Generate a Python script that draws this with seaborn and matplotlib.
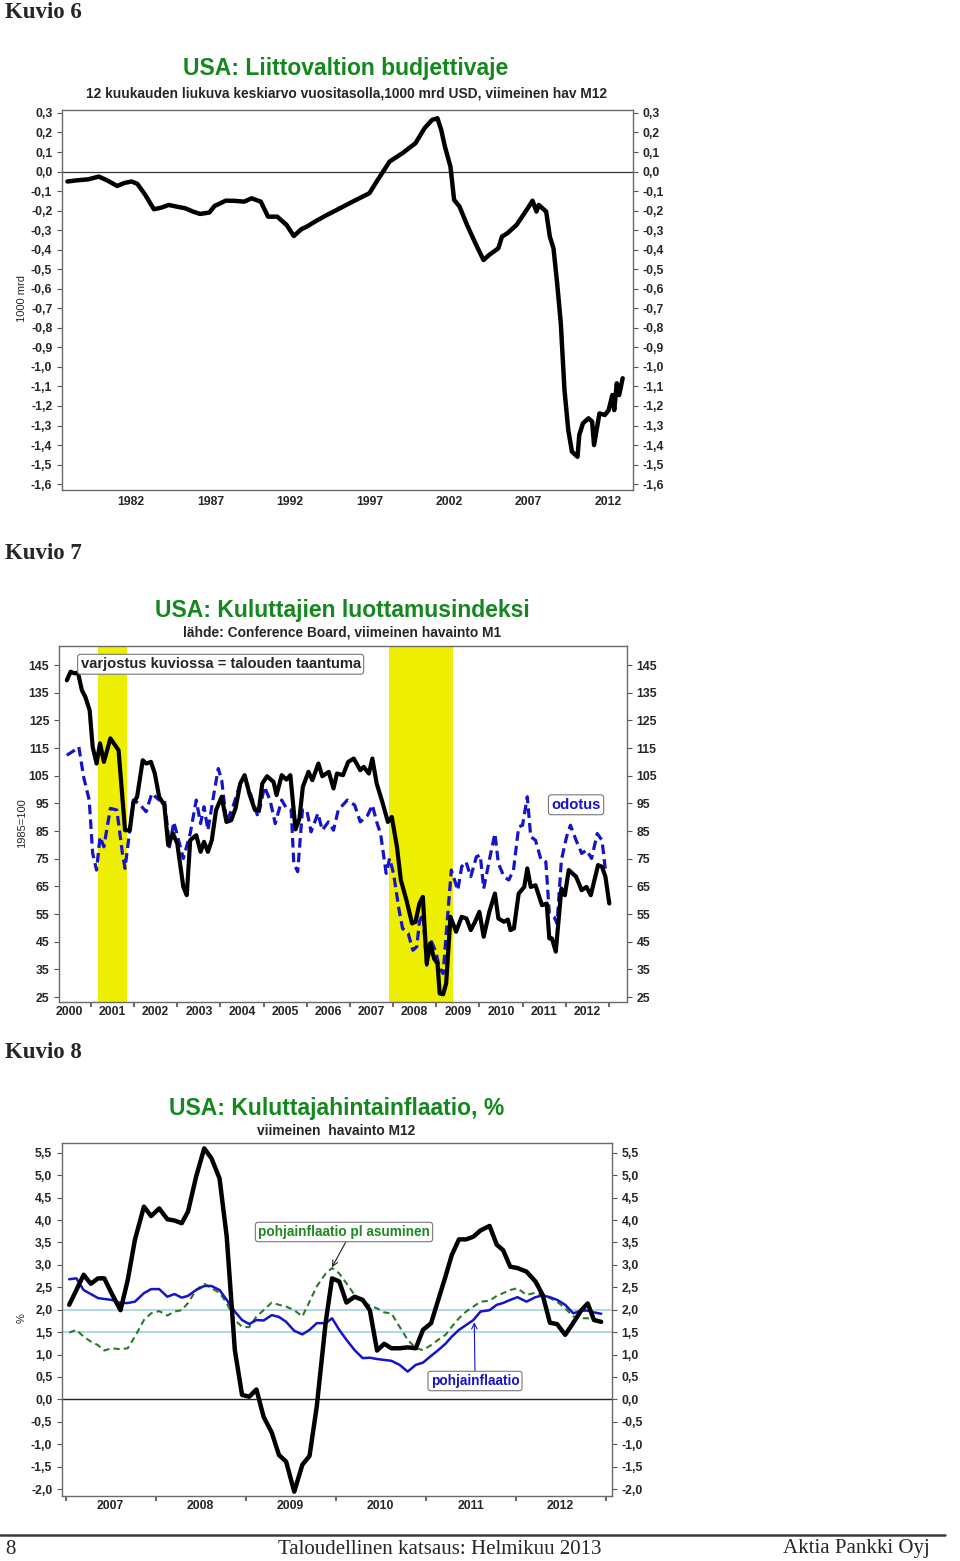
import numpy as np
import pandas as pd
import matplotlib
matplotlib.use("Agg")
import matplotlib.pyplot as plt
from matplotlib.lines import Line2D
import seaborn as sns

W, H = 960, 1561

# ---------------- data: Kuvio 6 (federal budget balance, 1000 bn USD) ----------------
bud_year = [1978.00, 1978.6, 1979.3, 1979.97, 1980.5, 1981.13, 1981.6, 1982.05, 1982.40, 1982.9,
            1983.44, 1983.9, 1984.37, 1984.9, 1985.41, 1985.9, 1986.34, 1986.92, 1987.26, 1987.96,
            1988.5, 1989.12, 1989.58, 1990.16, 1990.62, 1991.20, 1991.78, 1992.24, 1992.71, 1993.05,
            1993.6, 1994.21, 1995.14, 1996.06, 1996.99, 1997.45, 1997.92, 1998.26, 1999.07, 1999.89,
            2000.46, 2000.93, 2001.27, 2001.51, 2001.74, 2002.09, 2002.32, 2002.66, 2003.13, 2003.71,
            2004.17, 2004.52, 2005.10, 2005.33, 2005.67, 2006.25, 2006.95, 2007.25, 2007.5, 2007.64,
            2008.11, 2008.34, 2008.57, 2008.80, 2009.03, 2009.26, 2009.50, 2009.73, 2010.08, 2010.19,
            2010.42, 2010.77, 2011.0, 2011.12, 2011.46, 2011.8, 2012.04, 2012.27, 2012.39, 2012.55,
            2012.7, 2012.92]
bud_value = [-0.051, -0.045, -0.040, -0.026, -0.045, -0.074, -0.058, -0.051, -0.063, -0.120,
             -0.193, -0.185, -0.171, -0.180, -0.188, -0.205, -0.217, -0.210, -0.176, -0.149,
             -0.150, -0.154, -0.137, -0.154, -0.231, -0.231, -0.273, -0.330, -0.295, -0.282,
             -0.255, -0.227, -0.188, -0.149, -0.111, -0.051, 0.008, 0.051, 0.094, 0.145,
             0.222, 0.264, 0.273, 0.213, 0.128, 0.025, -0.145, -0.179, -0.273, -0.376,
             -0.453, -0.427, -0.393, -0.333, -0.316, -0.273, -0.188, -0.149, -0.205, -0.171,
             -0.205, -0.333, -0.393, -0.572, -0.777, -1.118, -1.323, -1.434, -1.460, -1.349,
             -1.289, -1.263, -1.280, -1.400, -1.238, -1.246, -1.221, -1.144, -1.221, -1.084,
             -1.144, -1.058]
bud_yticks = [0.3, 0.2, 0.1, 0.0, -0.1, -0.2, -0.3, -0.4, -0.5, -0.6, -0.7, -0.8, -0.9,
              -1.0, -1.1, -1.2, -1.3, -1.4, -1.5, -1.6]
bud_xticks = [1982, 1987, 1992, 1997, 2002, 2007, 2012]

# ---------------- data: Kuvio 7 (Conference Board consumer confidence) ----------------
conf_year = [2000.44, 2000.53, 2000.62, 2000.70, 2000.79, 2000.87, 2000.97, 2001.04, 2001.13, 2001.21,
             2001.30, 2001.45, 2001.64, 2001.79, 2001.90, 2001.98, 2002.07, 2002.20, 2002.28, 2002.39,
             2002.48, 2002.58, 2002.70, 2002.79, 2002.90, 2003.00, 2003.14, 2003.22, 2003.30, 2003.44,
             2003.54, 2003.62, 2003.71, 2003.80, 2003.90, 2004.03, 2004.14, 2004.25, 2004.35, 2004.46,
             2004.56, 2004.68, 2004.80, 2004.89, 2004.97, 2005.08, 2005.23, 2005.30, 2005.42, 2005.53,
             2005.62, 2005.74, 2005.83, 2005.91, 2006.04, 2006.13, 2006.27, 2006.36, 2006.51, 2006.62,
             2006.70, 2006.84, 2006.96, 2007.09, 2007.24, 2007.32, 2007.44, 2007.52, 2007.62, 2007.75,
             2007.88, 2007.97, 2008.09, 2008.18, 2008.31, 2008.44, 2008.52, 2008.61, 2008.69, 2008.78,
             2008.86, 2008.95, 2009.03, 2009.08, 2009.16, 2009.23, 2009.33, 2009.46, 2009.59, 2009.70,
             2009.80, 2009.90, 2010.00, 2010.10, 2010.23, 2010.36, 2010.44, 2010.57, 2010.66, 2010.72,
             2010.80, 2010.91, 2011.04, 2011.11, 2011.19, 2011.30, 2011.45, 2011.56, 2011.62, 2011.68,
             2011.77, 2011.90, 2011.98, 2012.07, 2012.24, 2012.37, 2012.48, 2012.58, 2012.75, 2012.84,
             2012.92, 2013.01]
conf_present = [139.5, 142.6, 142.0, 142.3, 135.9, 133.5, 128.7, 115.4, 109.4, 116.7,
                110.0, 118.5, 114.2, 85.3, 85.3, 95.0, 97.4, 110.6, 109.4, 110.0,
                105.8, 97.4, 94.4, 79.9, 84.1, 80.5, 64.8, 61.8, 81.7, 83.5,
                77.5, 81.1, 77.5, 81.7, 92.6, 97.4, 88.3, 88.9, 93.2, 102.2,
                105.2, 98.0, 92.6, 92.6, 102.2, 104.8, 102.8, 98.0, 105.2, 103.6,
                105.2, 85.6, 89.5, 101.0, 106.4, 103.4, 109.4, 104.8, 106.4, 100.4,
                105.8, 105.2, 110.0, 111.2, 107.0, 108.2, 105.8, 111.2, 102.2, 95.6,
                88.3, 90.1, 79.3, 67.3, 60.0, 51.6, 52.2, 58.8, 61.2, 37.1,
                44.4, 38.9, 37.1, 26.3, 26.0, 29.9, 54.0, 48.6, 54.0, 53.4,
                49.2, 52.2, 55.8, 46.8, 55.8, 62.4, 53.4, 52.2, 53.0, 49.2,
                49.8, 62.4, 64.8, 71.5, 64.8, 65.4, 58.2, 58.8, 46.2, 46.2,
                41.4, 64.2, 61.8, 70.9, 68.5, 63.6, 64.8, 61.8, 72.7, 72.1,
                68.5, 58.8]
exp_year = [2000.44, 2000.62, 2000.72, 2000.83, 2000.96, 2001.04, 2001.13, 2001.21, 2001.30, 2001.45,
            2001.60, 2001.73, 2001.79, 2001.90, 2001.98, 2002.11, 2002.28, 2002.41, 2002.58, 2002.70,
            2002.82, 2002.92, 2003.03, 2003.14, 2003.30, 2003.44, 2003.54, 2003.62, 2003.71, 2003.85,
            2003.95, 2004.03, 2004.14, 2004.29, 2004.46, 2004.59, 2004.72, 2004.87, 2005.02, 2005.15,
            2005.27, 2005.42, 2005.53, 2005.64, 2005.70, 2005.79, 2005.90, 2006.00, 2006.10, 2006.26,
            2006.36, 2006.50, 2006.62, 2006.73, 2006.94, 2007.11, 2007.24, 2007.41, 2007.52, 2007.62,
            2007.71, 2007.84, 2007.92, 2008.01, 2008.14, 2008.22, 2008.35, 2008.46, 2008.55, 2008.61,
            2008.69, 2008.78, 2008.89, 2008.99, 2009.08, 2009.16, 2009.25, 2009.35, 2009.50, 2009.59,
            2009.69, 2009.80, 2009.93, 2010.02, 2010.10, 2010.23, 2010.36, 2010.44, 2010.57, 2010.68,
            2010.79, 2010.91, 2011.00, 2011.11, 2011.19, 2011.30, 2011.43, 2011.54, 2011.62, 2011.73,
            2011.80, 2011.90, 2012.02, 2012.11, 2012.24, 2012.37, 2012.48, 2012.60, 2012.73, 2012.84,
            2012.92]
conf_expect = [112.4, 114.2, 115.4, 104.6, 96.2, 76.9, 70.9, 82.9, 79.3, 93.2,
               92.6, 76.9, 71.5, 85.3, 96.2, 95.0, 92.0, 98.6, 96.2, 96.8,
               79.3, 88.3, 81.7, 75.1, 84.1, 96.2, 87.7, 93.8, 85.3, 98.6,
               107.6, 103.4, 88.3, 93.8, 102.2, 103.4, 97.4, 90.1, 101.0, 96.2,
               87.7, 96.2, 93.2, 92.6, 73.3, 70.3, 92.6, 92.6, 84.7, 91.4,
               85.3, 88.3, 85.3, 92.6, 96.2, 94.4, 88.3, 90.7, 94.4, 88.3,
               84.1, 69.7, 75.1, 69.7, 56.4, 49.8, 48.0, 41.9, 43.2, 52.2,
               55.2, 36.5, 45.0, 41.4, 35.3, 33.5, 51.6, 70.9, 63.6, 72.1,
               73.9, 68.5, 75.7, 76.3, 64.2, 74.5, 84.1, 73.3, 68.5, 67.3,
               70.9, 86.5, 87.1, 97.4, 82.9, 81.7, 74.5, 73.9, 55.2, 54.0,
               51.6, 74.5, 82.9, 87.1, 81.7, 76.9, 78.1, 75.1, 84.1, 81.7,
               70.9]
recession_start = [2001.17, 2007.91]
recession_end = [2001.84, 2009.40]
conf_yticks = [145, 135, 125, 115, 105, 95, 85, 75, 65, 55, 45, 35, 25]
conf_years = list(range(2000, 2013))

# ---------------- data: Kuvio 8 (CPI inflation, %) ----------------
cpi_year = [2007.04, 2007.12, 2007.20, 2007.28, 2007.36, 2007.43, 2007.51, 2007.61, 2007.69, 2007.77,
            2007.87, 2007.95, 2008.04, 2008.13, 2008.21, 2008.29, 2008.36, 2008.45, 2008.54, 2008.62,
            2008.71, 2008.79, 2008.88, 2008.96, 2009.04, 2009.12, 2009.20, 2009.29, 2009.37, 2009.45,
            2009.54, 2009.63, 2009.71, 2009.79, 2009.89, 2009.96, 2010.04, 2010.12, 2010.21, 2010.30,
            2010.38, 2010.46, 2010.54, 2010.62, 2010.71, 2010.80, 2010.89, 2010.97, 2011.06, 2011.14,
            2011.22, 2011.29, 2011.37, 2011.45, 2011.53, 2011.61, 2011.71, 2011.79, 2011.86, 2011.94,
            2012.02, 2012.12, 2012.22, 2012.30, 2012.38, 2012.46, 2012.55, 2012.64, 2012.73, 2012.80,
            2012.87, 2012.95]
cpi_headline = [2.11, 2.44, 2.78, 2.58, 2.70, 2.70, 2.37, 1.99, 2.66, 3.56,
                4.30, 4.09, 4.26, 4.02, 3.99, 3.93, 4.19, 4.97, 5.60, 5.38,
                4.93, 3.63, 1.10, 0.10, 0.06, 0.22, -0.39, -0.74, -1.24, -1.39,
                -2.06, -1.46, -1.26, -0.16, 1.73, 2.70, 2.63, 2.16, 2.29, 2.22,
                1.99, 1.09, 1.24, 1.14, 1.14, 1.16, 1.14, 1.55, 1.70, 2.22,
                2.74, 3.22, 3.57, 3.57, 3.63, 3.77, 3.87, 3.45, 3.33, 2.96,
                2.93, 2.85, 2.63, 2.33, 1.71, 1.68, 1.44, 1.71, 1.99, 2.14,
                1.77, 1.73]
cpi_core = [2.68, 2.70, 2.44, 2.35, 2.26, 2.24, 2.22, 2.15, 2.15, 2.18,
            2.37, 2.46, 2.46, 2.29, 2.35, 2.27, 2.31, 2.44, 2.53, 2.53,
            2.44, 2.22, 1.96, 1.77, 1.68, 1.77, 1.76, 1.88, 1.84, 1.73,
            1.53, 1.45, 1.55, 1.70, 1.70, 1.81, 1.55, 1.33, 1.10, 0.92,
            0.93, 0.90, 0.88, 0.86, 0.77, 0.62, 0.77, 0.82, 0.97, 1.10,
            1.24, 1.40, 1.55, 1.66, 1.77, 1.96, 1.99, 2.11, 2.15, 2.22,
            2.28, 2.18, 2.28, 2.32, 2.28, 2.22, 2.11, 1.92, 1.98, 1.98,
            1.94, 1.91]
cpi_core_ex_housing = [1.49, 1.55, 1.40, 1.29, 1.21, 1.09, 1.14, 1.12, 1.14, 1.40,
                       1.77, 1.92, 1.97, 1.87, 1.96, 1.99, 2.15, 2.44, 2.58, 2.48,
                       2.38, 2.15, 1.77, 1.62, 1.61, 1.85, 1.99, 2.16, 2.11, 2.07,
                       1.99, 1.85, 2.18, 2.52, 2.81, 2.93, 2.81, 2.59, 2.33, 2.20,
                       2.09, 2.03, 1.94, 1.92, 1.62, 1.33, 1.14, 1.10, 1.21, 1.33,
                       1.44, 1.62, 1.81, 1.96, 2.07, 2.18, 2.20, 2.31, 2.37, 2.44,
                       2.48, 2.33, 2.38, 2.33, 2.26, 2.18, 2.03, 1.85, 1.81, 1.81,
                       1.77, 1.73]
cpi_yticks = [5.5, 5.0, 4.5, 4.0, 3.5, 3.0, 2.5, 2.0, 1.5, 1.0, 0.5, 0.0,
              -0.5, -1.0, -1.5, -2.0]
cpi_years = list(range(2007, 2013))
cpi_ref_lines = [2.0, 1.5]

# ---------------- styling ----------------
sns.set_theme(style="ticks")
plt.rcParams["font.family"] = ["Liberation Sans", "DejaVu Sans"]
SERIF = ["Liberation Serif", "DejaVu Serif"]
GREEN = "#14871e"
BLUE = "#1414c8"
TICK_FS = 8.8

fig = plt.figure(figsize=(W / 100, H / 100), dpi=100)


def px_rect(l, t, r, b):
    return [l / W, 1 - b / H, (r - l) / W, (b - t) / H]


def ftext(x, y, s, **kw):
    fig.text(x / W, 1 - y / H, s, **kw)


def comma(v, nd=1):
    return f"{v:.{nd}f}".replace(".", ",")


def style_axes(ax):
    for sp in ax.spines.values():
        sp.set_visible(True)
        sp.set_color("#6a6a6a")
        sp.set_linewidth(1.0)
    ax.tick_params(axis="y", which="both", left=True, right=True, labelleft=True,
                   labelright=True, length=3.5, width=0.8, color="#555555",
                   labelsize=TICK_FS, pad=3.5)
    ax.set_xlabel("")
    ax.set_ylabel("")
    for lab in ax.get_yticklabels() + ax.get_xticklabels(which="both"):
        lab.set_fontweight("bold")
    ax.grid(False)


def heading(y, s):
    ftext(5, y, s, fontsize=16.5, family=SERIF, fontweight="bold", va="center", ha="left")


# ---------- Kuvio 6 ----------
heading(12, "Kuvio 6")
ftext(346, 69, "USA: Liittovaltion budjettivaje", fontsize=16.5, fontweight="bold",
      color=GREEN, ha="center", va="center")
ftext(346, 93, "12 kuukauden liukuva keskiarvo vuositasolla,1000 mrd USD, viimeinen hav M12",
      fontsize=9.9, fontweight="bold", ha="center", va="center")
ftext(22, 298, "1000 mrd", fontsize=8, rotation=90, ha="center", va="center")

ax1 = fig.add_axes(px_rect(62, 110, 633, 490))
df1 = pd.DataFrame({"year": bud_year, "value": bud_value})
ax1.axhline(0, color="#333333", lw=0.9, zorder=1)
sns.lineplot(data=df1, x="year", y="value", ax=ax1, color="black", lw=3.2,
             estimator=None, sort=False, zorder=3)
ax1.set_xlim(1977.66, 2013.57)
ax1.set_ylim(-1.630, 0.315)
ax1.set_yticks(bud_yticks)
ax1.set_yticklabels([comma(v) for v in bud_yticks])
ax1.set_xticks(bud_xticks)
ax1.set_xticklabels([str(y) for y in bud_xticks])
ax1.tick_params(axis="x", length=0, labelsize=TICK_FS, pad=4)
style_axes(ax1)

# ---------- Kuvio 7 ----------
heading(554, "Kuvio 7")
ftext(342, 610, "USA: Kuluttajien luottamusindeksi", fontsize=16.5, fontweight="bold",
      color=GREEN, ha="center", va="center")
ftext(342, 633, "lähde: Conference Board, viimeinen havainto M1",
      fontsize=9.9, fontweight="bold", ha="center", va="center")
ftext(22, 823, "1985=100", fontsize=8, rotation=90, ha="center", va="center")

ax2 = fig.add_axes(px_rect(59, 646, 627, 1002))
for s, e in zip(recession_start, recession_end):
    ax2.axvspan(s, e, color="#eeee00", lw=0, zorder=0)
df2a = pd.DataFrame({"year": conf_year, "value": conf_present})
df2b = pd.DataFrame({"year": exp_year, "value": conf_expect})
sns.lineplot(data=df2b, x="year", y="value", ax=ax2, color=BLUE, lw=2.3,
             linestyle=(0, (3.0, 1.6)), estimator=None, sort=False, zorder=2)
sns.lineplot(data=df2a, x="year", y="value", ax=ax2, color="black", lw=3.0,
             estimator=None, sort=False, zorder=3)
ax2.set_xlim(2000.26, 2013.42)
ax2.set_ylim(23.2, 151.9)
ax2.set_yticks(conf_yticks)
ax2.set_yticklabels([str(v) for v in conf_yticks])
ax2.set_xticks([y + 1 for y in conf_years])
ax2.set_xticklabels([""] * len(conf_years))
ax2.set_xticks([y + 0.5 for y in conf_years], minor=True)
ax2.set_xticklabels([str(y) for y in conf_years], minor=True)
ax2.tick_params(axis="x", which="major", length=3.5, color="#555555")
ax2.tick_params(axis="x", which="minor", length=0, labelsize=TICK_FS, pad=3)
style_axes(ax2)
ax2.text(2000.76, 145.3, "varjostus kuviossa = talouden taantuma", fontsize=10.6,
         fontweight="bold", ha="left", va="center", zorder=5,
         bbox=dict(boxstyle="round,pad=0.2", fc="white", ec="#777777", lw=0.8))
ax2.text(2012.24, 94.5, "odotus", fontsize=10.6, fontweight="bold", color=BLUE,
         ha="center", va="center", zorder=5,
         bbox=dict(boxstyle="round,pad=0.2", fc="white", ec="#777777", lw=0.8))

# ---------- Kuvio 8 ----------
heading(1052, "Kuvio 8")
ftext(337, 1108, "USA: Kuluttajahintainflaatio, %", fontsize=16.5, fontweight="bold",
      color=GREEN, ha="center", va="center")
ftext(336, 1131, "viimeinen  havainto M12", fontsize=9.9, fontweight="bold",
      ha="center", va="center")
ftext(22, 1318, "%", fontsize=8, rotation=90, ha="center", va="center")

ax3 = fig.add_axes(px_rect(62, 1143, 612, 1496))
for v in cpi_ref_lines:
    ax3.axhline(v, color="#a9d6e5", lw=1.3, zorder=1)
ax3.axhline(0, color="#222222", lw=1.0, zorder=1)
df3 = pd.DataFrame({"year": cpi_year, "headline": cpi_headline, "core": cpi_core,
                    "core_ex": cpi_core_ex_housing})
sns.lineplot(data=df3, x="year", y="core_ex", ax=ax3, color="#2a7a2a", lw=1.5,
             linestyle=(0, (3.0, 2.0)), estimator=None, sort=False, zorder=2)
sns.lineplot(data=df3, x="year", y="core", ax=ax3, color=BLUE, lw=1.8,
             estimator=None, sort=False, zorder=3)
sns.lineplot(data=df3, x="year", y="headline", ax=ax3, color="black", lw=3.2,
             estimator=None, sort=False, zorder=4)
ax3.set_xlim(2006.96, 2013.07)
ax3.set_ylim(-2.156, 5.72)
ax3.set_yticks(cpi_yticks)
ax3.set_yticklabels([comma(v) for v in cpi_yticks])
ax3.set_xticks([y for y in cpi_years] + [2013])
ax3.set_xticklabels([""] * (len(cpi_years) + 1))
ax3.set_xticks([y + 0.5 for y in cpi_years], minor=True)
ax3.set_xticklabels([str(y) for y in cpi_years], minor=True)
ax3.tick_params(axis="x", which="major", length=3.5, color="#555555")
ax3.tick_params(axis="x", which="minor", length=0, labelsize=TICK_FS, pad=3)
style_axes(ax3)
ax3.annotate("pohjainflaatio pl asuminen", xy=(2009.96, 2.95),
             xytext=(344 / W, 1 - 1232 / H), textcoords="figure fraction",
             fontsize=9.8, fontweight="bold", color="#1f8a1f", ha="center", va="center",
             zorder=6,
             bbox=dict(boxstyle="round,pad=0.2", fc="white", ec="#777777", lw=0.8),
             arrowprops=dict(arrowstyle="->", color="#222222", lw=0.8,
                             shrinkA=0, shrinkB=0, relpos=(0.52, 0.0)))
ax3.annotate("pohjainflaatio", xy=(2011.54, 1.72),
             xytext=(475 / W, 1 - 1381 / H), textcoords="figure fraction",
             fontsize=9.8, fontweight="bold", color=BLUE, ha="center", va="center",
             zorder=6,
             bbox=dict(boxstyle="round,pad=0.2", fc="white", ec="#777777", lw=0.8),
             arrowprops=dict(arrowstyle="->", color=BLUE, lw=0.8,
                             shrinkA=0, shrinkB=0, relpos=(0.5, 1.0)))

# ---------- footer ----------
fig.add_artist(Line2D([0, 945 / W], [1 - 1535 / H, 1 - 1535 / H], color="#3a3a3a", lw=1.8))
ftext(5, 1549, "8", fontsize=15, family=SERIF, ha="left", va="center")
ftext(440, 1549, "Taloudellinen katsaus: Helmikuu 2013", fontsize=15, family=SERIF,
      ha="center", va="center")
ftext(930, 1549, "Aktia Pankki Oyj", fontsize=15, family=SERIF, ha="right", va="center")

fig.savefig("out.png", dpi=100)
